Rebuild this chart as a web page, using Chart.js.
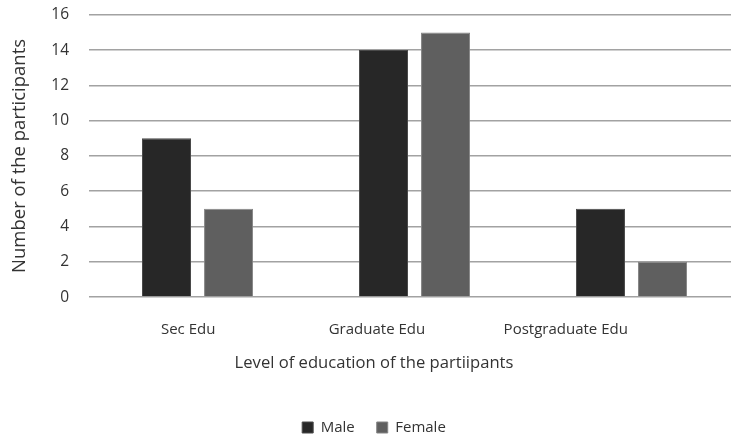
<!DOCTYPE html>
<html>
<head>
<meta charset="utf-8">
<script src="https://cdn.jsdelivr.net/npm/chart.js@4.4.0/dist/chart.umd.min.js"></script>
<style>
  html, body { margin: 0; padding: 0; background: #ffffff; overflow: hidden; }
  #wrap { width: 740px; height: 437px; }
</style>
</head>
<body>
<div id="wrap"><canvas id="c" width="740" height="437"></canvas></div>
<script>
const categories = ["Sec Edu", "Graduate Edu", "Postgraduate Edu"];
const seriesNames = ["Male", "Female"];
const maleValues = [9, 14, 5];
const femaleValues = [5, 15, 2];
const yTicks = [0, 2, 4, 6, 8, 10, 12, 14, 16];
const xTitle = "Level of education of the partiipants";
const yTitle = "Number of the participants";

const FONT = "'Open Sans', 'Liberation Sans', sans-serif";
const TEXT = "#333333";

new Chart(document.getElementById("c"), {
  type: "bar",
  data: {
    labels: categories,
    datasets: [
      { label: seriesNames[0], data: maleValues, backgroundColor: "#272727", borderColor: "#4a4a4a", borderWidth: 1,
        categoryPercentage: 0.572, barPercentage: 0.79, xAxisID: "x" },
      { label: seriesNames[1], data: femaleValues, backgroundColor: "#5f5f5f", borderColor: "#858585", borderWidth: 1,
        categoryPercentage: 0.572, barPercentage: 0.79, xAxisID: "x" }
    ]
  },
  options: {
    responsive: false,
    animation: false,
    devicePixelRatio: 1,
    layout: { padding: { left: 8, top: 1.5, right: 0, bottom: -8 } },
    plugins: {
      tooltip: { enabled: false },
      legend: {
        position: "bottom",
        labels: { boxWidth: 11, boxHeight: 11, padding: 22, color: TEXT, font: { family: FONT, size: 15 } }
      },
      title: {
        display: true,
        position: "bottom",
        weight: 500,
        text: xTitle,
        color: TEXT,
        font: { family: FONT, size: 16.6, weight: "normal" },
        padding: { top: 14, bottom: 25 }
      }
    },
    scales: {
      x: {
        type: "category",
        display: false,
        grid: { display: false }
      },
      xl: {
        type: "linear",
        position: "bottom",
        offset: false,
        min: -0.525,
        max: 2.923,
        grid: { display: false, drawTicks: true, tickLength: 24 },
        border: { display: false },
        afterBuildTicks: (s) => { s.ticks = categories.map((c, i) => ({ value: i })); },
        ticks: {
          autoSkip: false,
          maxRotation: 0,
          padding: 0,
          color: TEXT,
          font: { family: FONT, size: 15 },
          callback: (v) => categories[v]
        }
      },
      y: {
        min: 0,
        max: 16,
        afterBuildTicks: (s) => { s.ticks = yTicks.map(v => ({ value: v })); },
        grid: { color: "#a2a2a2", lineWidth: 1.6, drawTicks: true, tickLength: 14.5, tickColor: "rgba(0,0,0,0)" },
        border: { display: false },
        ticks: { padding: 5.5, color: TEXT, font: { family: FONT, size: 15.5 } },
        title: {
          display: true,
          text: yTitle,
          color: TEXT,
          font: { family: FONT, size: 18.5 },
          padding: { top: 1, bottom: 14.6 }
        }
      }
    }
  }
});
</script>
</body>
</html>
